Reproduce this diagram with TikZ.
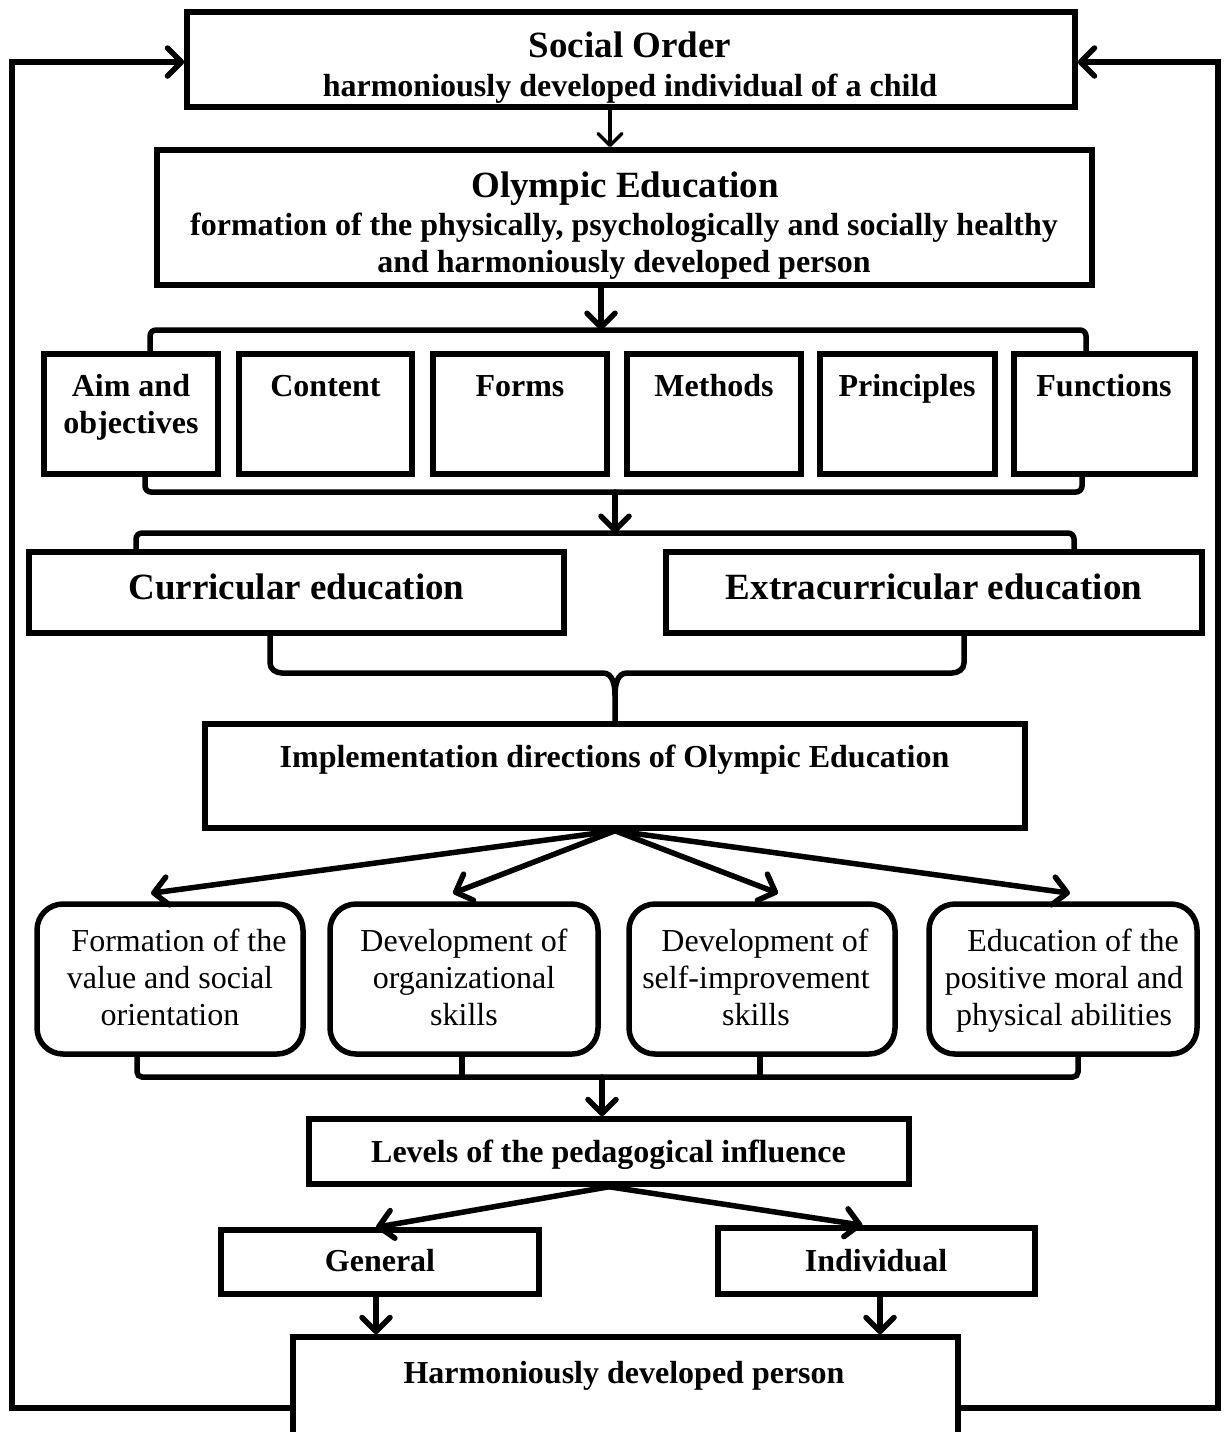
\documentclass[tikz,border=0pt]{standalone}
\usepackage{fontspec}
\setmainfont{Liberation Serif}
\usetikzlibrary{arrows.meta}
\begin{document}
\tikzset{
  frame/.style={draw, line width=5.5pt, rectangle, inner sep=0pt},
  rframe/.style={frame, rounded corners=26pt},
  link/.style={line width=5.5pt, line cap=round},
  arr/.style={link, -{Straight Barb[round,length=14pt,width=28pt]}},
  thinarr/.style={line width=3.5pt, line cap=round, -{Straight Barb[round,length=12pt,width=24pt]}},
  bigtxt/.style={font=\fontsize{37}{42}\selectfont\bfseries, inner sep=0pt},
  midtxt/.style={font=\fontsize{32}{37}\selectfont\bfseries, inner sep=0pt, align=center},
  plaintxt/.style={font=\fontsize{32}{37}\selectfont, inner sep=0pt, align=center},
}
\begin{tikzpicture}[x=1pt,y=-1pt]
\useasboundingbox (0,0) rectangle (1227,1432);

% ---------- boxes ----------
\node[frame, minimum width=888pt, minimum height=95pt]  (so)  at (631,59.5) {};
\node[frame, minimum width=935pt, minimum height=135pt] (oe)  at (624.5,217.5) {};

\node[frame, minimum width=174pt, minimum height=120pt] (aim) at (131,414) {};
\node[frame, minimum width=173pt, minimum height=120pt] (cnt) at (325.5,414) {};
\node[frame, minimum width=174pt, minimum height=120pt] (frm) at (520,414) {};
\node[frame, minimum width=174pt, minimum height=120pt] (mth) at (714,414) {};
\node[frame, minimum width=175pt, minimum height=120pt] (prn) at (907.5,414) {};
\node[frame, minimum width=181pt, minimum height=120pt] (fun) at (1104.5,414) {};

\node[frame, minimum width=535pt, minimum height=81pt]  (cur) at (296.5,592.5) {};
\node[frame, minimum width=536pt, minimum height=81pt]  (ext) at (934,592.5) {};

\node[frame, minimum width=820pt, minimum height=104pt] (imp) at (615,776) {};

\node[rframe, minimum width=266pt, minimum height=150pt] (r1) at (170,979) {};
\node[rframe, minimum width=268pt, minimum height=150pt] (r2) at (464,979) {};
\node[rframe, minimum width=266pt, minimum height=150pt] (r3) at (762,979) {};
\node[rframe, minimum width=268pt, minimum height=150pt] (r4) at (1063,979) {};

\node[frame, minimum width=600pt, minimum height=65pt]  (lev) at (609,1151.5) {};
\node[frame, minimum width=318pt, minimum height=64pt]  (gen) at (380,1262) {};
\node[frame, minimum width=317pt, minimum height=66pt]  (ind) at (876.5,1261) {};
\node[frame, minimum width=665pt, minimum height=103pt] (hdp) at (625.5,1388.5) {};

% ---------- labels ----------
\node[bigtxt, anchor=base] (t-so)  at (630,57) {Social Order};
\node[midtxt, anchor=base] (t-so2) at (630,96) {harmoniously developed individual of a child};
\node[bigtxt, anchor=base] (t-oe)  at (625,197) {Olympic Education};
\node[midtxt, anchor=north] (t-oe2) at (624,213) {formation of the physically, psychologically and socially healthy\\and harmoniously developed person};

\node[midtxt, anchor=north] (t-aim) at (131,374) {Aim and\\objectives};
\node[midtxt, anchor=base] (t-cnt) at (325.5,396) {Content};
\node[midtxt, anchor=base] (t-frm) at (520,396) {Forms};
\node[midtxt, anchor=base] (t-mth) at (714,396) {Methods};
\node[midtxt, anchor=base] (t-prn) at (907,396) {Principles};
\node[midtxt, anchor=base] (t-fun) at (1104,396) {Functions};

\node[bigtxt, anchor=base] (t-cur) at (296.5,599) {Curricular education};
\node[bigtxt, anchor=base] (t-ext) at (934,599) {Extracurricular education};

\node[midtxt, anchor=base] (t-imp) at (614.5,767) {Implementation directions of Olympic Education};

\node[plaintxt, anchor=north] (t-r1) at (170,929) {\hspace*{18pt}Formation of the\\value and social\\orientation};
\node[plaintxt, anchor=north] (t-r2) at (464,929) {Development of\\organizational\\skills};
\node[plaintxt, anchor=north] (t-r3) at (756,929) {\hspace*{18pt}Development of\\self-improvement\\skills};
\node[plaintxt, anchor=north] (t-r4) at (1064,929) {\hspace*{18pt}Education of the\\positive moral and\\physical abilities};

\node[midtxt, anchor=base] (t-lev) at (608.5,1162) {Levels of the pedagogical influence};
\node[midtxt, anchor=base] (t-gen) at (380,1271) {General};
\node[midtxt, anchor=base] (t-ind) at (876,1271) {Individual};
\node[midtxt, anchor=base] (t-hdp) at (624,1383) {Harmoniously developed person};

% ---------- feedback loops ----------
\coordinate (lbot) at (12,1408);
\coordinate (ltop) at (12,62);
\draw[arr] (lbot -| hdp.west) -- (lbot) -- (ltop) -- (ltop -| so.west);
\coordinate (rbot) at (1218,1408);
\coordinate (rtop) at (1218,62);
\draw[arr] (rbot -| hdp.east) -- (rbot) -- (rtop) -- (rtop -| so.east);

% ---------- top of the chain ----------
\coordinate (c1) at (610,0);
\draw[thinarr] (c1 |- so.south) -- (c1 |- oe.north);
\coordinate (c2) at (601,330);
\draw[arr] (c2 |- oe.south) -- (c2);

% bracket over the six components
\coordinate (tbl) at (150,330);
\coordinate (tbr) at (1086,330);
\draw[link, rounded corners=6pt] (tbl |- aim.north) -- (tbl) -- (tbr) -- (tbr |- fun.north);
% bracket under the six components
\coordinate (bbl) at (145,492);
\coordinate (bbr) at (1082,492);
\draw[link, rounded corners=6pt] (bbl |- aim.south) -- (bbl) -- (bbr) -- (bbr |- fun.south);
\coordinate (c3) at (615,533);
\draw[arr] (c3 |- bbl) -- (c3);
% bracket over the two kinds of education
\coordinate (mbl) at (136,533);
\coordinate (mbr) at (1074,533);
\draw[link, rounded corners=6pt] (mbl |- cur.north) -- (mbl) -- (mbr) -- (mbr |- ext.north);

% brace joining both kinds of education
\coordinate (bl) at (270,673);
\coordinate (br) at (964,673);
\coordinate (bm) at (615,695);
\draw[link] (bl |- cur.south) -- ([yshift=10pt]bl) to[out=-90,in=180] ([xshift=12pt]bl)
  -- (603,673) to[out=0,in=90] (bm) -- (bm |- imp.north);
\draw[link] (br |- ext.south) -- ([yshift=10pt]br) to[out=-90,in=0] ([xshift=-12pt]br)
  -- (627,673) to[out=180,in=90] (bm);

% implementation directions
\draw[arr] (imp.south) -- ([xshift=-19pt,yshift=8pt]r1.north);
\draw[arr] (imp.south) -- ([xshift=-11pt,yshift=8pt]r2.north);
\draw[arr] (imp.south) -- ([xshift=16pt,yshift=8pt]r3.north);
\draw[arr] (imp.south) -- ([xshift=7pt,yshift=8pt]r4.north);

% bracket under the four directions
\coordinate (qbl) at (137,1077);
\coordinate (qbr) at (1078,1077);
\draw[link, rounded corners=5pt] (qbl |- r1.south) -- (qbl) -- (qbr) -- (qbr |- r4.south);
\coordinate (q2) at (462,1077);
\coordinate (q3) at (760,1077);
\draw[link] (q2 |- r2.south) -- (q2);
\draw[link] (q3 |- r3.south) -- (q3);
\coordinate (q0) at (602,1077);
\draw[arr] (q0) -- (q0 |- lev.north);

% levels
\draw[arr] (lev.south) -- ([xshift=-4pt]gen.north);
\draw[arr] (lev.south) -- ([xshift=-14pt]ind.north);
\coordinate (g1) at (376,0);
\coordinate (g2) at (880,0);
\draw[arr] (g1 |- gen.south) -- (g1 |- hdp.north);
\draw[arr] (g2 |- ind.south) -- (g2 |- hdp.north);
\end{tikzpicture}
\end{document}
